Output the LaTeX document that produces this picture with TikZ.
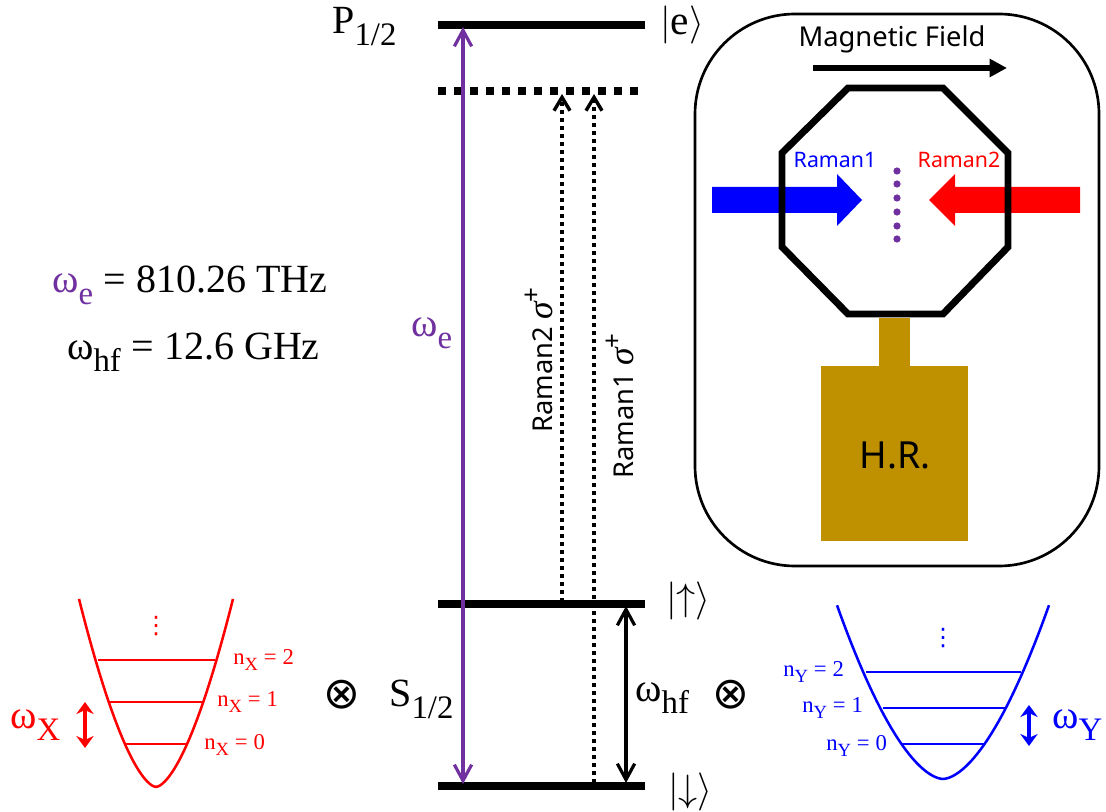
\documentclass[tikz,border=0pt]{standalone}
\usepackage{fontspec}
\setmainfont{Noto Sans}
\newfontfamily\cam{Liberation Serif}
\newfontfamily\dejavu{DejaVu Sans}
\usetikzlibrary{arrows.meta}
\definecolor{ionpurple}{HTML}{7030A0}
\definecolor{hrgold}{HTML}{BF9000}
\newcommand{\lowtxt}[1]{\raisebox{-0.3em}{\scalebox{0.82}{#1}}}
\newcommand{\eqtxt}{\hspace{0.26em}=\hspace{0.26em}}
\newcommand{\kettxt}[1]{\scalebox{1.15}{$|$#1$\rangle$}}
\newcommand{\sigtxt}{\scalebox{1.3}{\cam\itshape σ}\raisebox{0.42em}{\scalebox{0.95}{+}}}
\tikzset{
  level/.style={line width=6pt},
  virtual/.style={line width=6pt, dash pattern=on 6pt off 6pt},
  raman/.style={line width=3pt, dash pattern=on 3pt off 3pt, -{Straight Barb[length=10pt,width=12pt,line width=2.6pt]}},
  bigtxt/.style={font=\cam\fontsize{30}{30}\selectfont, inner sep=0pt},
  midtxt/.style={font=\cam\fontsize{27}{27}\selectfont, inner sep=0pt},
  smalltxt/.style={font=\cam\fontsize{17}{17}\selectfont, inner sep=0pt},
  sanstxt/.style={font=\fontsize{20.5}{20.5}\selectfont, inner sep=0pt},
  beamtxt/.style={font=\fontsize{16}{16}\selectfont, inner sep=0pt},
  energy/.style={line width=2.7pt, {Straight Barb[length=12pt,width=13pt,line width=2.4pt]}-{Straight Barb[length=12pt,width=13pt,line width=2.4pt]}},
  trap/.style={line width=1.9pt},
  phonon/.style={line width=3pt, {Stealth[length=9pt,width=13pt]}-{Stealth[length=9pt,width=13pt]}},
  wdots/.style={font=\dejavu\fontsize{18}{18}\selectfont, inner sep=0pt},
  timestxt/.style={font=\dejavu\fontsize{33}{33}\selectfont, inner sep=0pt},
}
\begin{document}
\begin{tikzpicture}[x=0.75pt, y=-0.75pt]
\useasboundingbox (0,0) rectangle (1106,812);

% levels
\coordinate (eL) at (438,25);      \coordinate (eR) at (645,25);
\coordinate (vL) at (438,91);      \coordinate (vR) at (640,91);
\coordinate (upL) at (438,603.5);  \coordinate (upR) at (645,603.5);
\coordinate (dnL) at (438,785.5);  \coordinate (dnR) at (645,785.5);
\draw[level] (eL) -- (eR);
\draw[virtual] (vL) -- (vR);
\draw[level] (upL) -- (upR);
\draw[level] (dnL) -- (dnR);

\node[bigtxt, anchor=west] (pLab) at (332,27) {P\lowtxt{1/2}};
\node[bigtxt, anchor=west] (sLab) at (389,699) {S\lowtxt{1/2}};
\node[midtxt, anchor=west] (eKet) at (660,25) {\kettxt{e}};
\node[midtxt, anchor=west] (upKet) at (666,601) {\kettxt{$\uparrow$}};
\node[midtxt, anchor=west] (dnKet) at (668,792) {\kettxt{$\downarrow$}};

% transitions
\coordinate (wTop) at (463,27);    \coordinate (wBot) at (463,784);
\coordinate (r2Top) at (562,94);   \coordinate (r2Bot) at (562,602);
\coordinate (r1Top) at (594,94);   \coordinate (r1Bot) at (594,783);
\coordinate (hfTop) at (626,606);  \coordinate (hfBot) at (626,783);
\draw[ionpurple, energy, line width=2.6pt] (wTop) -- (wBot);
\draw[raman] (r2Bot) -- (r2Top);
\draw[raman] (r1Bot) -- (r1Top);
\draw[energy] (hfTop) -- (hfBot);

\node[bigtxt, ionpurple, anchor=west] (wLab) at (411,333) {ω\lowtxt{e}};
\node[bigtxt, anchor=west] (hfLab) at (635,698) {ω\lowtxt{hf}};
\node[sanstxt, rotate=90, anchor=base west] (r2Lab) at (552,433) {Raman2 \sigtxt};
\node[sanstxt, rotate=90, anchor=base west] (r1Lab) at (633,479) {Raman1 \sigtxt};

\node[bigtxt, anchor=west] (wVal) at (52,285) {{\color{ionpurple}ω\lowtxt{e}}\eqtxt 810.26 THz};
\node[bigtxt, anchor=west] (hfVal) at (67,352) {ω\lowtxt{hf}\eqtxt 12.6 GHz};
\node[timestxt] (leftTimes) at (342,695) {⊗};
\node[timestxt] (rightTimes) at (731,695) {⊗};

% chamber
\draw[line width=2pt, rounded corners=75pt] (695,14) rectangle (1099,566);
\node[sanstxt] (magLab) at (892,39) {Magnetic Field};
\coordinate (magL) at (813,68);    \coordinate (magR) at (1007,68);
\draw[line width=4.5pt, -{Triangle[length=13pt,width=13pt]}] (magL) -- (magR);

\fill[blue] (712,187) -- (837,187) -- (837,174) -- (862,200) -- (837,226) -- (837,213) -- (712,213) -- cycle;
\fill[red] (1080,187) -- (955,187) -- (955,174) -- (929,200) -- (955,226) -- (955,213) -- (1080,213) -- cycle;
\draw[line width=5.2pt] (848,88) -- (943,88) -- (1008,153) -- (1008,247) -- (943,314) -- (848,314) -- (782,247) -- (782,153) -- cycle;
\node[beamtxt, blue] (r1Beam) at (835,160) {Raman1};
\node[beamtxt, red] (r2Beam) at (959,160) {Raman2};
\foreach \y in {171,184,198,212,226,239}
   \fill[ionpurple] (897,\y) circle (2.7pt);

\fill[hrgold] (879,318) rectangle (910,366);
\fill[hrgold] (821,366) rectangle (968,541);
\node[font=\fontsize{28}{28}\selectfont, inner sep=0pt] (hrLab) at (895,455) {H.R.};

% red well
\draw[red, trap, domain=-77:77, samples=60, variable=\x] plot ({156+\x},{787-0.161*pow(abs(\x),1.626)});
\draw[red, trap] (125,744) -- (187,744);
\draw[red, trap] (109,702) -- (202,702);
\draw[red, trap] (98,660) -- (215,660);
\node[wdots, red] (xDots) at (156,626) {⋮};
\node[smalltxt, red, anchor=west] (nx0) at (204,745) {n\lowtxt{X}\eqtxt 0};
\node[smalltxt, red, anchor=west] (nx1) at (217,702) {n\lowtxt{X}\eqtxt 1};
\node[smalltxt, red, anchor=west] (nx2) at (233,660) {n\lowtxt{X}\eqtxt 2};
\coordinate (xTop) at (85,702);    \coordinate (xBot) at (85,748);
\draw[red, phonon] (xTop) -- (xBot);
\node[bigtxt, red, anchor=west] (wxLab) at (10,725) {ω\lowtxt{X}};

% blue well
\draw[blue, trap, domain=-106:106, samples=60, variable=\x] plot ({943+\x},{779-0.0598*pow(abs(\x),1.71)});
\draw[blue, trap] (902,744) -- (985,744);
\draw[blue, trap] (883,708) -- (1005,708);
\draw[blue, trap] (866,672) -- (1021,672);
\node[wdots, blue] (yDots) at (943,638) {⋮};
\node[smalltxt, blue, anchor=west] (ny0) at (826,746) {n\lowtxt{Y}\eqtxt 0};
\node[smalltxt, blue, anchor=west] (ny1) at (802,708) {n\lowtxt{Y}\eqtxt 1};
\node[smalltxt, blue, anchor=west] (ny2) at (783,672) {n\lowtxt{Y}\eqtxt 2};
\coordinate (yTop) at (1029,705);  \coordinate (yBot) at (1029,746);
\draw[blue, phonon] (yTop) -- (yBot);
\node[bigtxt, blue, anchor=west] (wyLab) at (1052,725) {ω\lowtxt{Y}};
\end{tikzpicture}
\end{document}
